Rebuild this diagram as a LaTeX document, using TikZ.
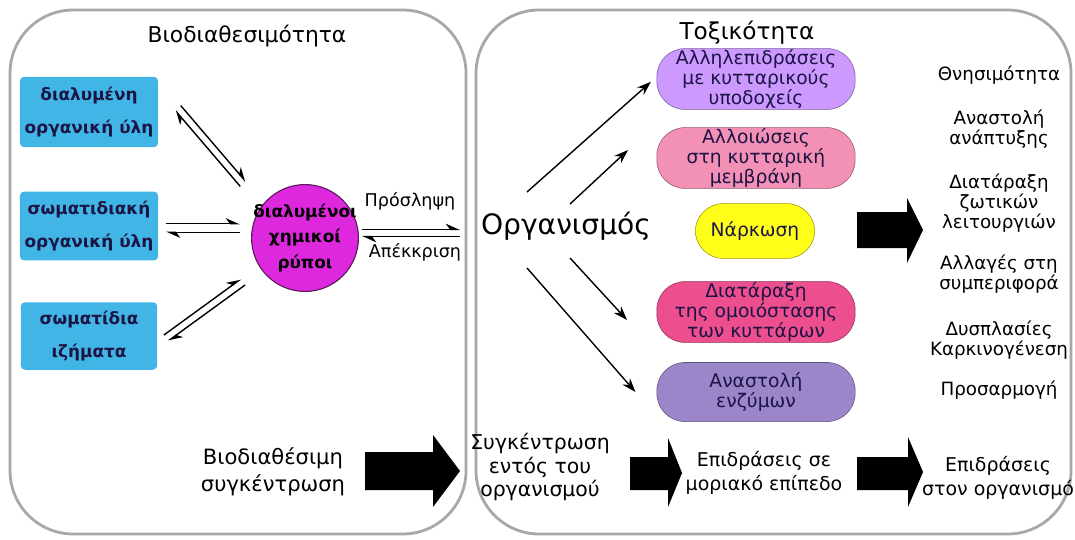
\documentclass[tikz,border=0pt]{standalone}
\usepackage{fontspec}
\setmainfont{DejaVu Sans}
\usepackage{xcolor}
\usetikzlibrary{calc,shapes,arrows.meta,positioning}

\definecolor{panelgray}{HTML}{A8A8A8}
\definecolor{skyfill}{HTML}{41B6E6}
\definecolor{polfill}{HTML}{DE28DE}
\definecolor{polline}{HTML}{5A1A5A}
\definecolor{navytext}{HTML}{1C1445}
\definecolor{violetfill}{HTML}{CC99FF}
\definecolor{pinkfill}{HTML}{F291B5}
\definecolor{yellowfill}{HTML}{FFFF1A}
\definecolor{hotpinkfill}{HTML}{EC4E8E}
\definecolor{lavenderfill}{HTML}{9B86C9}

\begin{document}
\begin{tikzpicture}[x=0.025cm,y=-0.025cm,
    panel/.style={draw=panelgray,line width=2pt,rounded corners=45pt},
    head/.style={font=\fontsize{15.5}{18}\selectfont},
    srcbox/.style={fill=skyfill,rounded corners=3pt,minimum width=97pt,align=center,text=navytext,font=\fontsize{12}{23}\selectfont\bfseries},
    pill/.style={draw=#1!60!black,fill=#1,rounded corners=20pt,minimum width=141pt,minimum height=42pt,inner sep=0.5pt,align=center,text=navytext,font=\fontsize{13.3}{13.4}\selectfont},
    effect/.style={align=center,font=\fontsize{13}{14.5}\selectfont},
    stage/.style={align=center,font=\fontsize{13.5}{17.5}\selectfont},
    fwd/.style={line width=1pt,-{Stealth[harpoon,length=9pt,width=8pt]}},
    arr/.style={line width=1pt,-{Stealth[length=10pt,width=7pt]}}]
        %\draw [help lines] (0,0) grid (1075,539);
        \useasboundingbox (0,0) rectangle (1075,539);

        \draw[panel] (10,10) rectangle (466,534);
        \draw[panel] (476,10) rectangle (1071,534);

        \node[head] (bio) at (247,36) {Βιοδιαθεσιμότητα};
        \node[head,font=\fontsize{16.5}{18}\selectfont] (tox) at (747,33) {Τοξικότητα};

        % left panel
        \node[srcbox,minimum height=50pt] (src1) at (89,112) {διαλυμένη\\οργανική ύλη};
        \node[srcbox,minimum height=49pt] (src2) at (89,226) {σωματιδιακή\\οργανική ύλη};
        \node[srcbox,minimum height=48pt] (src3) at (89,336) {σωματίδια\\ιζήματα};

        \node[circle,draw=polline,fill=polfill,line width=0.8pt,minimum size=76pt,inner sep=0pt] (pol) at (305,238) {};
        \node[align=center,font=\fontsize{12}{18}\selectfont\bfseries] (poltext) at (pol) {διαλυμένοι\\χημικοί\\ρύποι};

        \coordinate (h1a) at (178,108);
        \coordinate (h1b) at (243,184);
        \coordinate (h2a) at (166,228);
        \coordinate (h2b) at (240,228);
        \coordinate (h3a) at (166,338);
        \coordinate (h3b) at (243,282);
        \coordinate (h4a) at (362,233);
        \coordinate (h4b) at (460,233);

        \draw[fwd] ($(h1a)!2.6pt!90:(h1b)$) -- ($(h1b)!2.6pt!-90:(h1a)$);
        \draw[fwd] ($(h1b)!2.6pt!90:(h1a)$) -- ($(h1a)!2.6pt!-90:(h1b)$);
        \draw[fwd] ($(h2a)!3pt!90:(h2b)$) -- ($(h2b)!3pt!-90:(h2a)$);
        \draw[fwd] ($(h2b)!3pt!90:(h2a)$) -- ($(h2a)!3pt!-90:(h2b)$);
        \draw[fwd] ($(h3a)!2.6pt!90:(h3b)$) -- ($(h3b)!2.6pt!-90:(h3a)$);
        \draw[fwd] ($(h3b)!2.6pt!90:(h3a)$) -- ($(h3a)!2.6pt!-90:(h3b)$);
        \draw[fwd] ($(h4a)!2.6pt!90:(h4b)$) -- ($(h4b)!2.6pt!-90:(h4a)$);
        \draw[fwd] ($(h4b)!2.6pt!90:(h4a)$) -- ($(h4a)!2.6pt!-90:(h4b)$);

        \node[font=\fontsize{12.5}{14}\selectfont] (uptake) at (410,201) {Πρόσληψη};
        \node[font=\fontsize{12.5}{14}\selectfont] (excr) at (415,252) {Απέκκριση};

        \node[stage,font=\fontsize{15}{19}\selectfont] (bioconc) at (273,472) {Βιοδιαθέσιμη\\συγκέντρωση};
        \fill (365,452) -- (433,452) -- (433,435) -- (460,471) -- (433,507) -- (433,490) -- (365,490) -- cycle;

        % right panel
        \node[font=\fontsize{20}{24}\selectfont] (org) at (566,226) {Οργανισμός};

        \node[pill=violetfill,minimum height=41pt] (p1) at (756,79) {Αλληλεπιδράσεις\\με κυτταρικούς\\υποδοχείς};
        \node[pill=pinkfill] (p2) at (756,158) {Αλλοιώσεις\\στη κυτταρική\\μεμβράνη};
        \node[pill=yellowfill,minimum width=85pt,minimum height=39pt] (p3) at (755,231) {Νάρκωση};
        \node[pill=hotpinkfill] (p4) at (756,312) {Διατάραξη\\της ομοιόστασης\\των κυττάρων};
        \node[pill=lavenderfill] (p5) at (756,392) {Αναστολή\\ενζύμων};

        \coordinate (o1) at (527,192);
        \coordinate (o2) at (570,204);
        \coordinate (o3) at (570,258);
        \coordinate (o4) at (527,268);
        \coordinate (t2) at (628,150);
        \coordinate (t3) at (627,320);
        \draw[arr] (o1) -- ([xshift=-4pt,yshift=-2pt]p1.west);
        \draw[arr] (o2) -- (t2);
        \draw[arr] (o3) -- (t3);
        \draw[arr] (o4) -- ([xshift=-15pt]p5.west);

        \fill (857,212) -- (907,212) -- (907,198) -- (923,230) -- (907,263) -- (907,248) -- (857,248) -- cycle;

        \node[effect] (e1) at (999,75) {Θνησιμότητα};
        \node[effect] (e2) at (999,129) {Αναστολή\\ανάπτυξης};
        \node[effect] (e3) at (999,203) {Διατάραξη\\ζωτικών\\λειτουργιών};
        \node[effect] (e4) at (999,274) {Αλλαγές στη\\συμπεριφορά};
        \node[effect] (e5) at (999,340) {Δυσπλασίες\\Καρκινογένεση};
        \node[effect] (e6) at (999,390) {Προσαρμογή};

        \node[stage,font=\fontsize{14.5}{16.5}\selectfont] (inorg) at (540,467) {Συγκέντρωση\\εντός του\\οργανισμού};
        \fill (630,457) -- (668,457) -- (668,438) -- (682,473) -- (668,507) -- (668,490) -- (630,490) -- cycle;
        \node[stage] (molec) at (764,473) {Επιδράσεις σε\\μοριακό επίπεδο};
        \fill (857,457) -- (908,457) -- (908,437) -- (923,472) -- (908,507) -- (908,490) -- (857,490) -- cycle;
        \node[stage] (orgeff) at (998,478) {Επιδράσεις\\στον οργανισμό};
    \end{tikzpicture}
\end{document}
